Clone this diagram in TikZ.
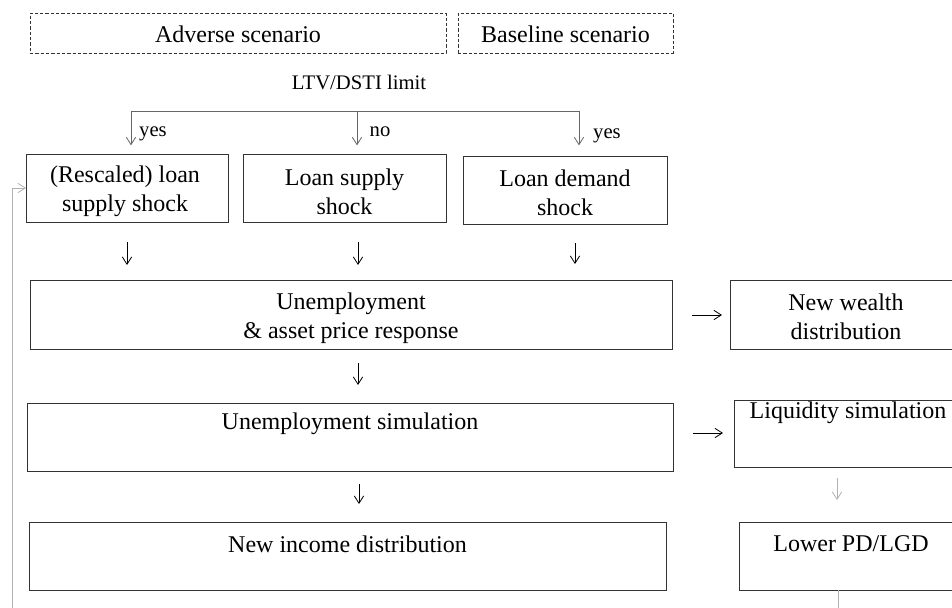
\documentclass[tikz,border=0pt]{standalone}
\usepackage{fontspec}
\setmainfont{Liberation Serif}
\usetikzlibrary{arrows.meta}
\begin{document}
\begin{tikzpicture}[x=0.75pt,y=-0.75pt,
  box/.style={draw=black!80, line width=0.7pt, inner sep=0pt, outer sep=0pt},
  dbox/.style={box, dash pattern=on 2.4pt off 1.6pt},
  txt/.style={inner sep=0pt, align=center, font=\fontsize{18}{22}\selectfont},
  small/.style={inner sep=0pt, font=\fontsize{15.5}{18}\selectfont},
  arr/.style={line width=0.6pt, -{Straight Barb[length=5.5pt,width=7pt]}},
  garr/.style={arr, draw=black!30},
  tree/.style={line width=0.7pt, draw=black!60},
]
\useasboundingbox (0,0) rectangle (952,607);
\clip (0,0) rectangle (952,607);

% boxes
\node[dbox, minimum width=416*0.75pt, minimum height=40*0.75pt] (adv) at (238,33) {};
\node[dbox, minimum width=215*0.75pt, minimum height=40*0.75pt] (base) at (565.5,33) {};
\node[box, minimum width=202*0.75pt, minimum height=68*0.75pt] (r1) at (127,188) {};
\node[box, minimum width=203*0.75pt, minimum height=68*0.75pt] (r2) at (344.5,188) {};
\node[box, minimum width=204*0.75pt, minimum height=68*0.75pt] (r3) at (565,190) {};
\node[box, minimum width=642*0.75pt, minimum height=69*0.75pt] (ue) at (351,314.5) {};
\node[box, minimum width=232*0.75pt, minimum height=69*0.75pt] (nw) at (846,314.5) {};
\node[box, minimum width=646*0.75pt, minimum height=68*0.75pt] (us) at (350,437) {};
\node[box, minimum width=228*0.75pt, minimum height=67*0.75pt] (liq) at (848,433.5) {};
\node[box, minimum width=637*0.75pt, minimum height=68*0.75pt] (ni) at (347.5,556) {};
\node[box, minimum width=224*0.75pt, minimum height=68*0.75pt] (pd) at (851,556) {};

% texts
\node[txt] (advt) at (238,34) {Adverse scenario};
\node[txt] (baset) at (565.5,34) {Baseline scenario};
\node[small] (ltv) at (359,82) {LTV/DSTI limit};
\node[txt] (r1t) at (125,191.5) {(Rescaled) loan\\supply shock};
\node[txt] (r2t) at (344.5,191.5) {Loan supply\\shock};
\node[txt] (r3t) at (565,193) {Loan demand\\shock};
\node[txt] (uet) at (351,318.5) {Unemployment\\\& asset price response};
\node[txt] (nwt) at (846,317) {New wealth\\distribution};
\node[txt] (ust) at (350,424) {Unemployment simulation};
\node[txt] (liqt) at (848,413) {Liquidity simulation};
\node[txt] (nit) at (347.5,544) {New income distribution};
\node[txt] (pdt) at (851,544) {Lower PD/LGD};
\node[small] (yes1) at (153,134) {yes};
\node[small] (no) at (380,132) {no};
\node[small] (yes2) at (607,136) {yes};

% decision tree
\coordinate (j1) at (131,111);
\coordinate (j2) at (357,111);
\coordinate (j3) at (579,111);
\draw[tree] (j1) -- (j3);
\draw[arr, draw=black!60, shorten >=6.5pt] (j1) -- (j1 |- r1.north);
\draw[arr, draw=black!60, shorten >=6.5pt] (j2) -- (j2 |- r2.north);
\draw[arr, draw=black!60, shorten >=8pt] (j3) -- (j3 |- r3.north);

% short free arrows
\coordinate (a1s) at (127,242); \coordinate (a1e) at (127,265);
\coordinate (a2s) at (358,242); \coordinate (a2e) at (358,265);
\coordinate (a3s) at (575,243); \coordinate (a3e) at (575,264);
\coordinate (a4s) at (358,363); \coordinate (a4e) at (358,385);
\coordinate (a5s) at (359,484); \coordinate (a5e) at (359,504);
\coordinate (a6s) at (692,315); \coordinate (a6e) at (722,315);
\coordinate (a7s) at (693,433); \coordinate (a7e) at (723,433);
\coordinate (a8s) at (837,478); \coordinate (a8e) at (837,500);
\draw[arr] (a1s) -- (a1e);
\draw[arr] (a2s) -- (a2e);
\draw[arr] (a3s) -- (a3e);
\draw[arr] (a4s) -- (a4e);
\draw[arr] (a5s) -- (a5e);
\draw[arr] (a6s) -- (a6e);
\draw[arr] (a7s) -- (a7e);
\draw[garr] (a8s) -- (a8e);

% feedback loop
\coordinate (fa) at (838,625);
\coordinate (fb) at (12,625);
\draw[garr] (pd.south -| fa) -- (fa) -- (fb) |- (r1.west);
\end{tikzpicture}
\end{document}
